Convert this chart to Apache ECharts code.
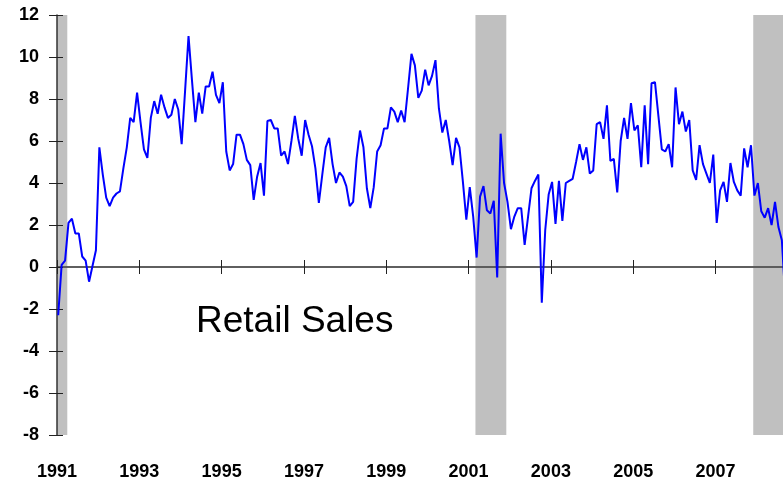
<!DOCTYPE html>
<html lang="en">
<head>
    <meta charset="UTF-8">
    <title>Retail Sales</title>
    <style>
        html, body { margin: 0; padding: 0; background: #fff; }
    </style>
</head>
<body>
<div id="main" style="width: 783px;height:481px;"></div>
<script src="https://cdn.jsdelivr.net/npm/echarts@6/dist/echarts.min.js"></script>
<script>
    // monthly values, % change over a year earlier, Jan 1991 .. Sep 2008
    var startYear = 1991;
    var sales1991 = [-2.3, 0.1, 0.3, 2.1, 2.3, 1.6, 1.6, 0.5, 0.3, -0.7, 0.05, 0.8];
    var sales1992 = [5.7, 4.4, 3.3, 2.9, 3.3, 3.5, 3.6, 4.7, 5.7, 7.1, 6.9, 8.3];
    var sales1993 = [6.9, 5.6, 5.2, 7.1, 7.9, 7.3, 8.2, 7.6, 7.1, 7.25, 8.0, 7.5];
    var sales1994 = [5.85, 8.4, 11.0, 8.9, 6.9, 8.3, 7.3, 8.6, 8.6, 9.3, 8.2, 7.8];
    var sales1995 = [8.8, 5.5, 4.6, 4.9, 6.3, 6.3, 5.85, 5.1, 4.85, 3.2, 4.3, 4.95];
    var sales1996 = [3.4, 6.95, 7.0, 6.6, 6.6, 5.3, 5.5, 4.9, 6.0, 7.2, 6.1, 5.3];
    var sales1997 = [7.0, 6.3, 5.75, 4.7, 3.05, 4.4, 5.7, 6.15, 4.9, 4.0, 4.5, 4.3];
    var sales1998 = [3.85, 2.9, 3.1, 5.15, 6.5, 5.7, 3.75, 2.8, 3.8, 5.5, 5.8, 6.6];
    var sales1999 = [6.6, 7.6, 7.4, 6.9, 7.45, 6.9, 8.5, 10.15, 9.6, 8.05, 8.4, 9.4];
    var sales2000 = [8.65, 9.1, 9.85, 7.55, 6.4, 7.0, 6.0, 4.85, 6.15, 5.7, 4.05, 2.25];
    var sales2001 = [3.8, 2.4, 0.45, 3.35, 3.85, 2.7, 2.55, 3.15, -0.5, 6.35, 4.0, 3.1];
    var sales2002 = [1.8, 2.4, 2.8, 2.8, 1.05, 2.4, 3.75, 4.1, 4.4, -1.7, 1.75, 3.45];
    var sales2003 = [4.05, 2.05, 4.1, 2.2, 4.0, 4.1, 4.2, 5.0, 5.85, 5.1, 5.7, 4.45];
    var sales2004 = [4.6, 6.8, 6.9, 6.1, 7.7, 5.05, 5.15, 3.55, 6.0, 7.1, 6.1, 7.8];
    var sales2005 = [6.5, 6.75, 4.75, 7.7, 4.9, 8.75, 8.8, 7.2, 5.6, 5.5, 5.85, 4.75];
    var sales2006 = [8.55, 6.8, 7.4, 6.45, 7.0, 4.6, 4.15, 5.8, 4.9, 4.45, 4.0, 5.35];
    var sales2007 = [2.1, 3.65, 4.05, 3.1, 4.95, 4.05, 3.65, 3.4, 5.65, 4.75, 5.8, 3.4];
    var sales2008 = [4.0, 2.65, 2.35, 2.8, 2.0, 3.1, 1.9, 1.27, -1.5];

    // recession periods (start, end) in years
    var recessions = [[1991.0, 1991.25], [2001.167, 2001.917], [2007.917, 2008.64]];

    var yTicks = [-8, -6, -4, -2, 0, 2, 4, 6, 8, 10, 12];
    var xStart = 1991, xEnd = 2008.64;

    var sales = [].concat(sales1991, sales1992, sales1993, sales1994, sales1995, sales1996,
        sales1997, sales1998, sales1999, sales2000, sales2001, sales2002, sales2003,
        sales2004, sales2005, sales2006, sales2007, sales2008);

    var lineData = [];
    for (var i = 0; i < sales.length; i++) {
        lineData.push([startYear + (i + 0.35) / 12, sales[i]]);
    }

    var recessionAreas = [];
    for (var r = 0; r < recessions.length; r++) {
        recessionAreas.push([{xAxis: recessions[r][0]}, {xAxis: recessions[r][1]}]);
    }

    var font = 'Liberation Sans, Arial, sans-serif';
    var myChart = echarts.init(document.getElementById('main'));

    var tickStyle = {color: '#222', width: 1};

    var option = {
        animation: false,
        backgroundColor: '#ffffff',
        grid: {
            left: 57,
            right: 0,
            top: 15,
            bottom: 46,
            containLabel: false,
            outerBoundsMode: 'none'
        },
        graphic: [{
            type: 'text',
            left: 196,
            top: 303,
            style: {
                text: 'Retail Sales',
                font: '37px ' + font,
                fill: '#000'
            }
        }],
        xAxis: [
            {   // line through zero, ticks down
                type: 'value',
                min: xStart, max: xEnd, interval: 2,
                position: 'bottom',
                z: 5,
                axisLine: {onZero: true, lineStyle: {color: '#555', width: 1.5}},
                axisTick: {show: true, inside: false, length: 7, lineStyle: tickStyle},
                axisLabel: {show: false},
                splitLine: {show: false}
            },
            {   // ticks up
                type: 'value',
                min: xStart, max: xEnd, interval: 2,
                position: 'bottom',
                z: 5,
                axisLine: {onZero: true, lineStyle: {color: '#555', width: 1.5}},
                axisTick: {show: true, inside: true, length: 7, lineStyle: tickStyle},
                axisLabel: {show: false},
                splitLine: {show: false}
            },
            {   // year labels under the plot
                type: 'value',
                min: xStart, max: xEnd, interval: 2,
                position: 'bottom',
                axisLine: {show: false, onZero: false},
                axisTick: {show: false},
                splitLine: {show: false},
                axisLabel: {
                    margin: 28,
                    color: '#000',
                    fontSize: 18,
                    fontWeight: 'bold',
                    fontFamily: font,
                    formatter: function (v) {
                        return (Math.abs(v - Math.round(v)) < 1e-6) ? String(Math.round(v)) : '';
                    }
                }
            }
        ],
        yAxis: [
            {
                type: 'value',
                min: yTicks[0], max: yTicks[yTicks.length - 1], interval: 2,
                position: 'left',
                z: 5,
                axisLine: {show: true, onZero: false, lineStyle: {color: '#333', width: 1.5}},
                axisTick: {show: true, length: 8, lineStyle: tickStyle},
                splitLine: {show: false},
                axisLabel: {
                    margin: 18,
                    color: '#000',
                    fontSize: 18,
                    fontWeight: 'bold',
                    fontFamily: font
                }
            },
            {   // short ticks to the right of the axis line
                type: 'value',
                min: yTicks[0], max: yTicks[yTicks.length - 1], interval: 2,
                position: 'left',
                offset: 0,
                z: 5,
                axisLine: {show: false, onZero: false},
                axisTick: {show: true, inside: true, length: 6, lineStyle: tickStyle},
                splitLine: {show: false},
                axisLabel: {show: false}
            }
        ],
        series: [
            {
                name: 'recession',
                type: 'line',
                data: [],
                z: 1,
                silent: true,
                markArea: {
                    silent: true,
                    itemStyle: {color: '#c0c0c0'},
                    data: recessionAreas
                }
            },
            {
                name: 'Retail Sales',
                type: 'line',
                data: lineData,
                z: 10,
                showSymbol: false,
                clip: true,
                lineStyle: {color: '#0000ff', width: 2}
            }
        ]
    };

    myChart.setOption(option);
</script>
</body>
</html>
